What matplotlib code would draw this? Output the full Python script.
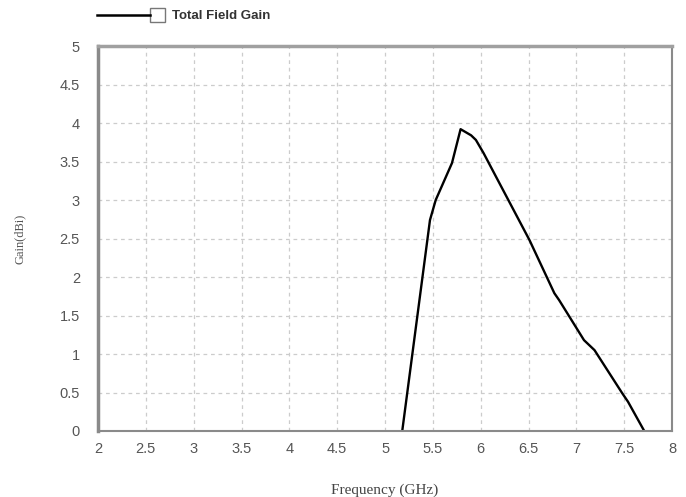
import matplotlib.pyplot as plt
from matplotlib.lines import Line2D
from matplotlib.patches import Rectangle
import numpy as np

# total field gain vs frequency
freq = [5.18, 5.47, 5.53, 5.70, 5.79, 5.90, 5.95, 6.03, 6.17, 6.51, 6.77, 6.82, 7.08, 7.19, 7.48, 7.54, 7.71]
gain = [0.0, 2.74, 3.00, 3.48, 3.92, 3.84, 3.78, 3.61, 3.28, 2.48, 1.79, 1.70, 1.18, 1.05, 0.49, 0.38, 0.0]
xticks = [2, 2.5, 3, 3.5, 4, 4.5, 5, 5.5, 6, 6.5, 7, 7.5, 8]
yticks = [0, 0.5, 1, 1.5, 2, 2.5, 3, 3.5, 4, 4.5, 5]

fig = plt.figure(figsize=(6.86, 4.97), dpi=100)
ax = fig.add_axes([0.1429, 0.1328, 0.8367, 0.7746])

ax.plot(freq, gain, color='black', lw=1.7)
ax.set_xlim(2, 8)
ax.set_ylim(0, 5)
ax.set_xticks(xticks)
ax.set_yticks(yticks)
ax.set_xticklabels([f'{t:g}' for t in xticks])
ax.set_yticklabels([f'{t:g}' for t in yticks])
ax.grid(True, ls=(0, (3, 3)), color='#cccccc', lw=0.9)
ax.tick_params(length=0, labelsize=10.5, labelcolor='#555555')
ax.tick_params(axis='x', pad=8)
ax.tick_params(axis='y', pad=13)
for lab in ax.get_xticklabels() + ax.get_yticklabels():
    lab.set_family('Liberation Sans')
for s in ax.spines.values():
    s.set_color('#8a8a8a')
    s.set_linewidth(1.5)
ax.spines['left'].set_linewidth(2.5)
ax.spines['top'].set_linewidth(2.5)
ax.spines['top'].set_color('#a0a0a0')

ax.set_xlabel('Frequency (GHz)', family='Liberation Serif', fontsize=11,
              color='#444444', labelpad=20)
ax.set_ylabel('Gain(dBi)', family='Liberation Serif', fontsize=9,
              color='#555555', labelpad=24)

# legend above the plot
fig.add_artist(Line2D([97/686, 150/686], [1-15/497, 1-15/497], color='black', lw=1.8))
fig.add_artist(Rectangle((150/686, 1-22/497), 15/686, 14/497, fill=False,
                         edgecolor='#777777', lw=1))
fig.text(172/686, 1-16/497, 'Total Field Gain', family='Liberation Sans', fontsize=9.5,
         fontweight='bold', color='#333333', va='center', ha='left')

fig.savefig('out.png', dpi=100)
